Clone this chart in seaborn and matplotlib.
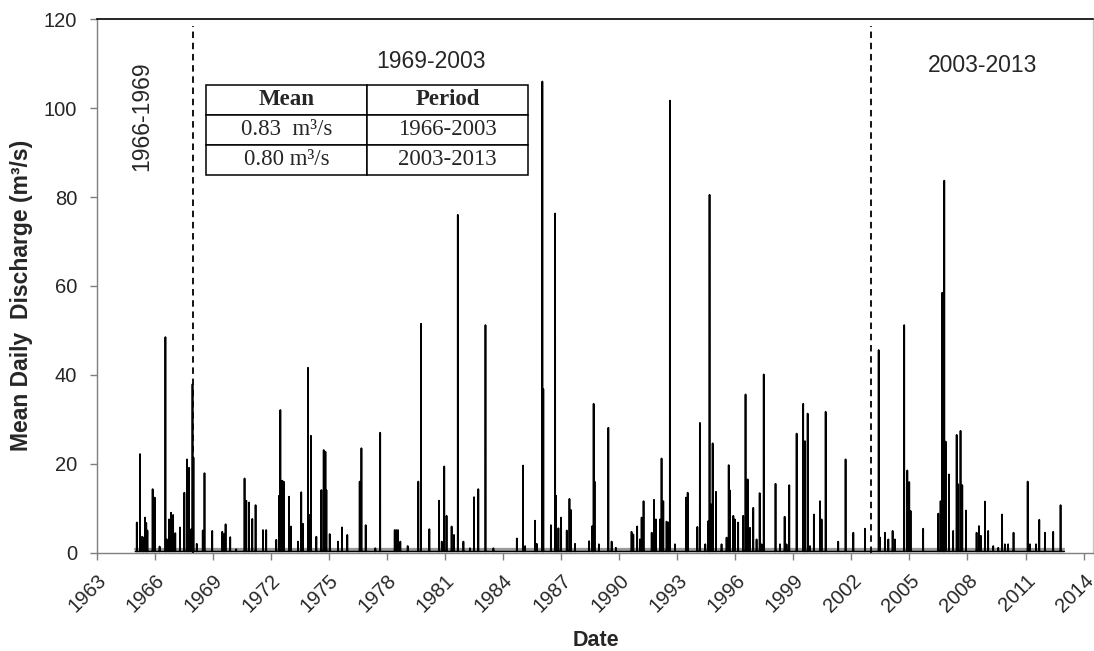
import numpy as np
import pandas as pd
import matplotlib
matplotlib.use("Agg")
import matplotlib.pyplot as plt
import seaborn as sns

# ---------------- data ----------------
spike_years = [
    1965.07, 1965.24, 1965.35, 1965.42, 1965.50, 1965.56, 1965.62, 1965.89, 1966.00, 1966.25,
    1966.55, 1966.62, 1966.74, 1966.84, 1966.95, 1967.06, 1967.30, 1967.53, 1967.67, 1967.77,
    1967.88, 1967.95, 1968.00, 1968.17, 1968.48, 1968.57, 1968.97, 1969.49, 1969.58, 1969.66,
    1969.90, 1970.21, 1970.64, 1970.73, 1970.87, 1971.04, 1971.21, 1971.59, 1971.76, 1972.28,
    1972.42, 1972.49, 1972.58, 1972.66, 1972.94, 1973.04, 1973.40, 1973.57, 1973.66, 1973.92,
    1973.99, 1974.07, 1974.35, 1974.61, 1974.73, 1974.82, 1974.87, 1975.04, 1975.47, 1975.68,
    1975.95, 1976.59, 1976.68, 1976.90, 1977.40, 1977.65, 1978.40, 1978.48, 1978.57, 1978.69,
    1979.07, 1979.62, 1979.76, 1980.19, 1980.69, 1980.83, 1980.96, 1981.08, 1981.34, 1981.46,
    1981.66, 1981.95, 1982.29, 1982.50, 1982.72, 1983.09, 1983.50, 1984.71, 1985.03, 1985.14,
    1985.65, 1985.74, 1986.03, 1986.08, 1986.47, 1986.69, 1986.74, 1986.86, 1987.00, 1987.29,
    1987.43, 1987.51, 1987.72, 1988.45, 1988.61, 1988.68, 1988.73, 1988.95, 1989.44, 1989.61,
    1989.83, 1990.64, 1990.73, 1990.93, 1991.07, 1991.16, 1991.26, 1991.68, 1991.80, 1991.90,
    1992.11, 1992.19, 1992.28, 1992.45, 1992.54, 1992.62, 1992.88, 1993.45, 1993.54, 1994.04,
    1994.17, 1994.45, 1994.60, 1994.67, 1994.74, 1994.83, 1995.00, 1995.29, 1995.55, 1995.66,
    1995.72, 1995.90, 1995.98, 1996.15, 1996.41, 1996.53, 1996.64, 1996.76, 1996.93, 1997.10,
    1997.26, 1997.36, 1997.47, 1998.08, 1998.31, 1998.55, 1998.65, 1998.79, 1999.17, 1999.51,
    1999.60, 1999.74, 1999.86, 2000.06, 2000.38, 2000.46, 2000.67, 2001.32, 2001.70, 2002.10,
    2002.70, 2003.41, 2003.48, 2003.73, 2003.91, 2004.13, 2004.25, 2004.73, 2004.89, 2004.99,
    2005.06, 2005.71, 2006.49, 2006.61, 2006.70, 2006.75, 2006.80, 2006.87, 2007.04, 2007.26,
    2007.44, 2007.52, 2007.64, 2007.73, 2007.92, 2008.47, 2008.59, 2008.69, 2008.90, 2009.07,
    2009.33, 2009.59, 2009.79, 2009.93, 2010.10, 2010.38, 2011.11, 2011.23, 2011.54, 2011.71,
    2012.00, 2012.43, 2012.81,
]
spike_values = [
    6.8, 22.2, 3.6, 3.4, 7.9, 6.7, 5.0, 14.3, 12.4, 1.4,
    48.5, 3.0, 7.5, 9.0, 8.5, 4.4, 5.7, 13.5, 21.0, 19.1,
    5.3, 37.9, 21.4, 2.0, 5.0, 17.9, 4.9, 4.7, 4.2, 6.4,
    3.5, 0.8, 16.7, 11.7, 11.3, 7.6, 10.7, 5.1, 5.1, 2.9,
    12.8, 32.1, 16.2, 16.0, 12.6, 5.9, 2.5, 13.6, 6.5, 41.6,
    8.5, 26.3, 3.6, 14.1, 23.1, 22.7, 14.1, 4.2, 2.5, 5.7,
    4.0, 16.0, 23.5, 6.2, 1.0, 27.0, 5.1, 5.1, 5.1, 2.5,
    1.5, 16.0, 51.5, 5.3, 11.7, 2.5, 19.4, 8.3, 5.9, 4.0,
    76.0, 2.5, 1.0, 12.5, 14.3, 51.2, 1.0, 3.2, 19.6, 1.5,
    7.2, 2.0, 106.0, 36.8, 6.2, 76.3, 12.8, 5.5, 7.9, 5.0,
    12.1, 9.6, 2.0, 2.6, 6.0, 33.5, 16.0, 1.9, 28.1, 2.5,
    1.1, 4.7, 4.1, 5.9, 3.0, 7.9, 11.6, 4.5, 11.9, 7.5,
    7.5, 21.2, 11.6, 7.0, 6.8, 101.7, 1.9, 12.4, 13.5, 5.8,
    29.2, 1.9, 7.1, 80.5, 10.9, 24.6, 13.7, 1.9, 3.4, 19.7,
    14.0, 8.3, 7.5, 6.8, 8.3, 35.6, 16.5, 5.6, 10.1, 3.0,
    13.4, 1.9, 40.1, 15.5, 1.9, 8.1, 1.9, 15.2, 26.8, 33.5,
    25.1, 31.3, 1.5, 8.6, 11.6, 7.5, 31.7, 2.5, 21.0, 4.5,
    5.4, 45.6, 3.4, 4.5, 3.0, 4.9, 3.0, 51.2, 18.5, 15.9,
    9.4, 5.4, 8.8, 11.6, 58.5, 25.1, 83.7, 25.0, 17.6, 4.9,
    26.5, 15.4, 27.4, 15.2, 9.5, 4.5, 6.0, 3.8, 11.5, 4.9,
    1.5, 1.1, 8.6, 1.9, 1.9, 4.5, 16.0, 1.9, 1.9, 7.4,
    4.5, 4.7, 10.7,
]
record_start, record_end = 1965.0, 2013.0
base_flow = 0.3

period_breaks = [1968.0, 2003.0]
mean_periods = [(1965.0, 2003.0), (2003.0, 2013.0)]
mean_values = [0.83, 0.80]

tick_years = list(range(1963, 2015, 3))
y_ticks = [0, 20, 40, 60, 80, 100, 120]

table_header = ["Mean", "Period"]
table_rows = [["0.83  m\u00b3/s", "1966-2003"], ["0.80 m\u00b3/s", "2003-2013"]]
period_labels = ["1966-1969", "1969-2003", "2003-2013"]

# ---------------- build the series ----------------
half_w = 0.004
xs, ys = [record_start], [base_flow]
for t, v in sorted(zip(spike_years, spike_values)):
    xs += [t - half_w, t, t + half_w]
    ys += [base_flow, v, base_flow]
xs.append(record_end)
ys.append(base_flow)
df = pd.DataFrame({"year": xs, "q": ys})

mean_rows = []
for (a, b), m in zip(mean_periods, mean_values):
    mean_rows += [{"year": a, "q": m, "p": f"{a}"}, {"year": b, "q": m, "p": f"{a}"}]
df_mean = pd.DataFrame(mean_rows)

# ---------------- plot ----------------
sns.set_theme(style="white")
plt.rcParams["font.family"] = ["Liberation Sans", "DejaVu Sans"]

fig = plt.figure(figsize=(10.94, 6.51), dpi=100)
ax = fig.add_axes([0.0884, 0.151, 0.9104, 0.8194])

sns.lineplot(data=df_mean, x="year", y="q", units="p", estimator=None, sort=False,
             color="#9a9a9a", lw=1.6, ax=ax, legend=False)
sns.lineplot(data=df, x="year", y="q", estimator=None, sort=False,
             color="black", lw=1.25, ax=ax)

ax.vlines(period_breaks, 0, 118.5, colors="black", linestyles=(0, (3.6, 2.6)), lw=1.3)

ax.set_xlim(1963.0, 2014.47)
ax.set_ylim(0, 120)
ax.set_xticks(tick_years)
ax.set_xticklabels([str(y) for y in tick_years], rotation=45, ha="right", va="top",
                   rotation_mode="anchor", fontsize=14.5)
ax.set_yticks(y_ticks)
ax.set_yticklabels([str(v) for v in y_ticks], fontsize=14.5)
ax.tick_params(axis="x", direction="out", length=5, width=1, color="#7f7f7f", pad=8,
               bottom=True)
ax.tick_params(axis="y", direction="out", length=5, width=1, color="#7f7f7f", pad=9,
               left=True)

for side, col, w in [("top", "black", 1.2), ("left", "#7f7f7f", 1.0),
                     ("bottom", "#7f7f7f", 1.0), ("right", "#c8c8c8", 1.0)]:
    ax.spines[side].set_visible(True)
    ax.spines[side].set_color(col)
    ax.spines[side].set_linewidth(w)

ax.set_xlabel("Date", fontsize=15.5, fontweight="bold")
ax.set_ylabel("Mean Daily  Discharge (m\u00b3/s)", fontsize=16.5, fontweight="bold")
ax.xaxis.set_label_coords(0.501, -0.145)
ax.yaxis.set_label_coords(-0.064, 0.482)

ax.text(0.0454, 0.8187, period_labels[0], transform=ax.transAxes, rotation=90,
        ha="center", va="center", fontsize=16.5)
ax.text(0.3353, 0.921, period_labels[1], transform=ax.transAxes,
        ha="center", va="center", fontsize=16.5)
ax.text(0.8895, 0.9124, period_labels[2], transform=ax.transAxes,
        ha="center", va="center", fontsize=16.5)

tbl = ax.table(cellText=table_rows, colLabels=table_header, cellLoc="center",
               bbox=[0.1097, 0.7081, 0.3233, 0.1687])
tbl.auto_set_font_size(False)
for (r, c), cell in tbl.get_celld().items():
    cell.set_edgecolor("black")
    cell.set_linewidth(1.1)
    cell.set_facecolor("white")
    txt = cell.get_text()
    txt.set_fontfamily(["Liberation Serif", "DejaVu Serif"])
    txt.set_fontsize(16.5)
    if r == 0:
        txt.set_fontweight("bold")

fig.savefig("out.png", dpi=100)
